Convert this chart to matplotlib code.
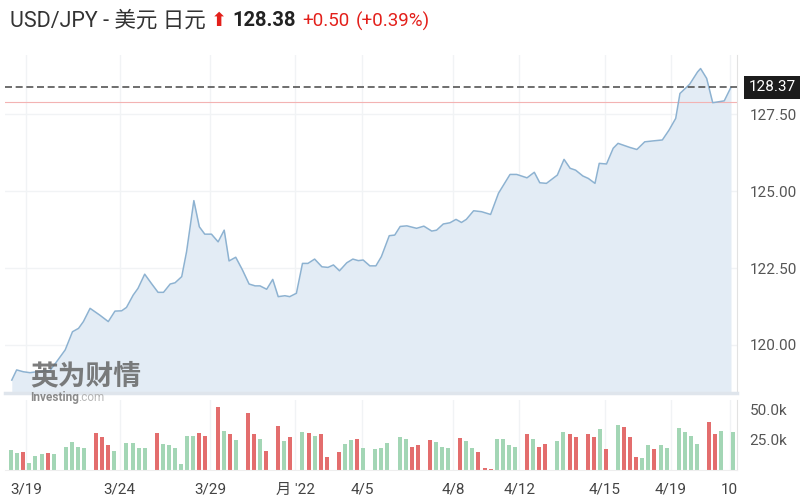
import matplotlib
matplotlib.use('Agg')
import matplotlib.pyplot as plt
import matplotlib.transforms as mtransforms

plt.rcParams['font.family'] = ['Roboto', 'Noto Sans CJK SC', 'DejaVu Sans']

# price line, x in bar-slot units (one slot per volume bar)
price_t = [0.1, 0.9, 2.0, 3.1, 4.2, 6.4, 7.5, 8.9, 10.1, 11.1, 11.9, 13.0, 14.6, 16.0,
           17.1, 18.2, 19.0, 20.1, 20.9, 22.0, 23.1, 24.2, 25.1, 26.2, 27.0, 28.1, 28.9,
           30.1, 31.0, 31.9, 33.0, 34.1, 35.1, 35.9, 37.0, 38.1, 39.2, 40.2, 41.0, 42.1,
           43.1, 44.0, 45.1, 45.9, 47.0, 48.0, 48.9, 50.0, 51.2, 52.2, 53.1, 54.1, 55.3,
           56.3, 57.2, 58.0, 59.1, 60.1, 61.0, 62.3, 63.2, 64.1, 65.2, 66.8, 68.0, 69.3,
           70.1, 71.2, 72.3, 73.3, 74.2, 75.0, 76.2, 77.5, 79.0, 80.3, 82.2, 83.3, 85.0,
           86.2, 87.1, 88.2, 90.0, 91.1, 92.1, 93.0, 94.2, 95.1, 96.2, 96.9, 98.1, 99.2,
           100.0, 101.9, 103.1, 104.4, 105.8, 107.3, 108.4, 109.5, 110.2, 111.8, 113.1,
           113.6, 114.6, 115.6, 117.5, 118.6]
price = [118.86, 119.19, 119.13, 119.10, 119.13, 119.17, 119.46, 119.84, 120.43, 120.54,
         120.76, 121.19, 120.97, 120.76, 121.10, 121.11, 121.22, 121.62, 121.84, 122.30,
         122.00, 121.71, 121.71, 121.98, 122.02, 122.22, 123.03, 124.69, 123.84, 123.60,
         123.60, 123.35, 123.73, 122.73, 122.85, 122.44, 121.98, 121.92, 121.92, 121.81,
         122.13, 121.57, 121.60, 121.57, 121.68, 122.65, 122.65, 122.79, 122.54, 122.52,
         122.60, 122.41, 122.67, 122.79, 122.74, 122.76, 122.57, 122.57, 122.87, 123.55,
         123.57, 123.85, 123.87, 123.79, 123.86, 123.70, 123.73, 123.93, 123.97, 124.08,
         123.98, 124.08, 124.36, 124.33, 124.24, 124.93, 125.54, 125.54, 125.43, 125.61,
         125.27, 125.25, 125.52, 126.03, 125.74, 125.68, 125.49, 125.41, 125.25, 125.90,
         125.88, 126.39, 126.55, 126.42, 126.35, 126.60, 126.63, 126.66, 126.98, 127.36,
         128.17, 128.47, 128.87, 128.98, 128.66, 127.87, 127.93, 128.37]

last_price = 128.37
prev_close = 127.88

# volume bars (thousands), 'g' = up bar, 'r' = down bar
bar_idx = [0, 1, 2, 3, 4, 5, 6, 7, 9, 10, 11, 12, 14, 15, 16, 17, 19, 20, 21, 22,
           24, 25, 26, 27, 28, 29, 30, 31, 32, 34, 35, 36, 37, 39, 40, 41, 42, 44, 45, 46,
           48, 49, 50, 51, 52, 54, 55, 56, 57, 58, 60, 61, 62, 64, 65, 66, 67, 69, 70, 71,
           72, 74, 75, 76, 77, 78, 79, 80, 81, 82, 83, 85, 86, 87, 88, 90, 91, 92, 93, 95,
           96, 97, 98, 100, 101, 102, 103, 104, 105, 106, 107, 108, 110, 111, 112, 113,
           115, 116, 117, 119]
volume = [16.7, 14.4, 15.3, 5.6, 11.7, 13.3, 13.9, 13.1, 19.4, 23.6, 19.4, 18.6, 30.6,
          27.2, 20.8, 16.1, 22.8, 22.8, 18.6, 18.6, 30.6, 21.4, 20.8, 18.1, 4.7, 28.3,
          28.3, 30.6, 28.3, 52.2, 32.5, 29.7, 25.0, 47.8, 29.7, 25.8, 16.1, 36.9, 24.2,
          27.2, 31.4, 30.6, 28.3, 29.7, 10.6, 15.3, 21.7, 25.0, 25.8, 18.1, 17.2, 18.1,
          22.8, 27.2, 25.8, 19.4, 20.8, 25.0, 23.6, 19.4, 18.1, 26.4, 24.4, 18.1, 15.3,
          1.4, 0.8, 25.8, 25.8, 20.8, 19.4, 29.7, 25.8, 19.4, 21.7, 24.4, 31.4, 29.7,
          27.2, 29.7, 27.2, 33.9, 17.2, 37.5, 36.1, 27.2, 10.6, 9.7, 20.8, 17.5, 20.8,
          18.6, 34.7, 31.4, 28.3, 21.7, 40.3, 29.7, 32.5, 31.4]
bar_color = ['g', 'g', 'r', 'g', 'g', 'g', 'r', 'g', 'g', 'g', 'g', 'g', 'r', 'r', 'r', 'g',
             'g', 'g', 'g', 'g', 'r', 'g', 'g', 'g', 'g', 'g', 'g', 'r', 'r', 'r', 'g', 'r',
             'g', 'r', 'r', 'g', 'r', 'r', 'g', 'r', 'g', 'r', 'g', 'r', 'r', 'r', 'g', 'g',
             'r', 'g', 'g', 'g', 'g', 'g', 'g', 'r', 'r', 'r', 'g', 'g', 'g', 'r', 'g', 'g',
             'r', 'r', 'r', 'g', 'g', 'g', 'g', 'r', 'g', 'r', 'r', 'g', 'g', 'r', 'r', 'r',
             'r', 'g', 'r', 'g', 'r', 'r', 'r', 'g', 'g', 'r', 'g', 'g', 'g', 'g', 'g', 'g',
             'r', 'r', 'g', 'g']

tick_pos = [2.5, 17.9, 32.8, 46.8, 57.8, 72.8, 83.7, 97.8, 108.7, 118.4]
tick_lbl = ['3/19', '3/24', '3/29', "月 '22", '4/5', '4/8', '4/12', '4/15', '4/19', '10']

W, H = 800, 498
fig = plt.figure(figsize=(W / 100, H / 100), dpi=100)

def box(x0, y0, x1, y1):
    return [x0 / W, 1 - y1 / H, (x1 - x0) / W, (y1 - y0) / H]

ax = fig.add_axes(box(5, 55, 737, 393))
axv = fig.add_axes(box(5, 400, 737, 470))

xlim = (-1.02, 119.6)
ylim = (118.44, 129.42)

grid_c = '#f1f3f5'
line_c = '#8db2d1'
fill_c = '#e3ecf5'

ax.fill_between(price_t, price, ylim[0], color=fill_c, lw=0, zorder=1)
ax.plot(price_t, price, color=line_c, lw=1.1, zorder=3)
ax.axhline(prev_close, color='#f3b3b3', lw=0.8, zorder=2)
ax.axhline(last_price, color='#555555', lw=1.2, dashes=(4.2, 2.2), zorder=4)

ax.set_xlim(*xlim)
ax.set_ylim(*ylim)
ax.set_xticks(tick_pos)
ax.set_xticklabels([])
ax.set_yticks([120, 122.5, 125, 127.5])
ax.set_yticklabels(['%.2f' % v for v in [120, 122.5, 125, 127.5]])
ax.yaxis.tick_right()
ax.tick_params(length=0, pad=9, labelsize=11, labelcolor='#555555')
ax.grid(True, color=grid_c, lw=1, zorder=0)
ax.set_axisbelow(True)
for s in ['top', 'left']:
    ax.spines[s].set_visible(False)
ax.spines['right'].set_color('#e2e2e2')
ax.spines['bottom'].set_color('#dfe5ec')
ax.spines['bottom'].set_linewidth(2.5)

trans = mtransforms.blended_transform_factory(ax.transAxes, ax.transData)
ax.text(1.016, last_price, '%.2f' % last_price, transform=trans, ha='left', va='center',
        fontsize=11, color='white',
        bbox=dict(boxstyle='square,pad=0.3', facecolor='#1c1c1c', edgecolor='none'))

colors = ['#a3d6b5' if c == 'g' else '#e36d6d' for c in bar_color]
axv.bar(bar_idx, [v * 1000 for v in volume], width=0.66, color=colors, zorder=2)
axv.set_xlim(*xlim)
axv.set_ylim(0, 58300)
axv.set_yticks([25000, 50000])
axv.set_yticklabels(['25.0k', '50.0k'])
axv.yaxis.tick_right()
axv.set_xticks(tick_pos)
axv.set_xticklabels(tick_lbl)
axv.tick_params(axis='y', length=0, pad=9, labelsize=11, labelcolor='#555555')
axv.tick_params(axis='x', length=0, pad=9, labelsize=11, labelcolor='#444444')
axv.grid(True, axis='x', color=grid_c, lw=1, zorder=0)
axv.set_axisbelow(True)
for s in ['top', 'left']:
    axv.spines[s].set_visible(False)
axv.spines['right'].set_color('#e2e2e2')
axv.spines['bottom'].set_color('#eeeeee')

# header
ty = 1 - 21 / H
fig.text(10 / W, ty, 'USD/JPY - 美元 日元', fontsize=15.5, color='#333333', va='center')
fig.text(211 / W, ty, '⬆', fontsize=14, color='#e3201b', va='center',
         family=['DejaVu Sans'])
fig.text(232 / W, ty, '128.38', fontsize=14.5, color='#222222', weight='bold', va='center')
fig.text(302 / W, ty, '+0.50', fontsize=13.5, color='#e3201b', va='center')
fig.text(356 / W, ty, '(+0.39%)', fontsize=13.5, color='#e3201b', va='center')

# watermark
fig.text(30 / W, 1 - 377 / H, '英为财情', fontsize=20, color='#666666', weight='bold',
         va='center', alpha=0.85, zorder=10)
fig.text(30 / W, 1 - 397 / H, 'Investing', fontsize=8.5, color='#777777', weight='bold',
         va='center', alpha=0.85, zorder=10)
fig.text(78 / W, 1 - 397 / H, '.com', fontsize=8.5, color='#aaaaaa',
         va='center', alpha=0.85, zorder=10)

fig.savefig('out.png', dpi=100)
